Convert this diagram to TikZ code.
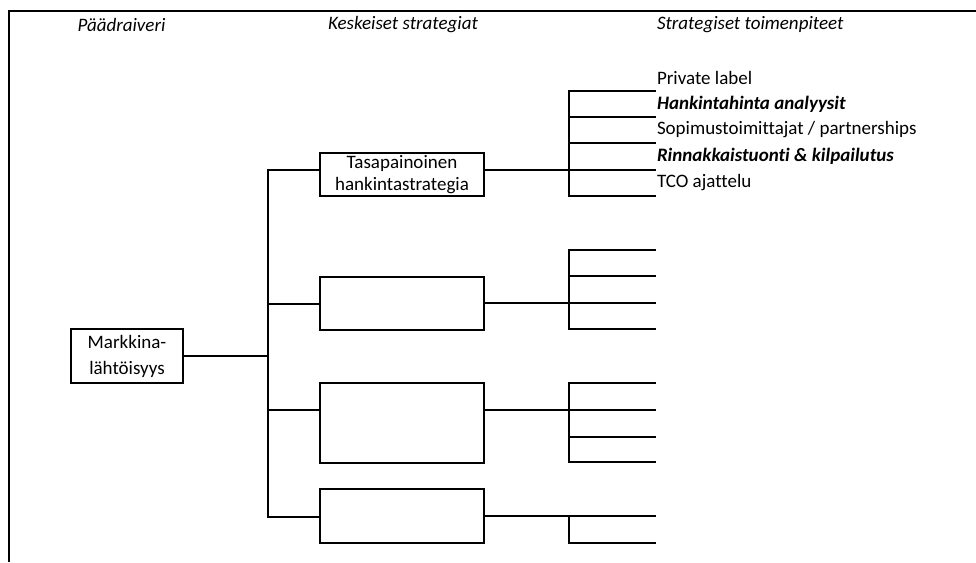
\documentclass[tikz,border=0pt]{standalone}
\usepackage{fontspec}
\setmainfont{Carlito}[Ligatures=NoCommon]
\begin{document}
\begin{tikzpicture}[x=1pt,y=-1pt,
  every node/.style={inner sep=0pt,outer sep=0pt,font=\fontsize{19}{25}\selectfont},
  ln/.style={line width=2pt},
  boxx/.style={draw,line width=2pt,align=center,minimum width=164pt},
  hdr/.style={font=\fontsize{19}{25}\selectfont\itshape},
  item/.style={anchor=west},
  bitem/.style={anchor=west,font=\fontsize{19}{25}\selectfont\bfseries\itshape}]
\useasboundingbox (0,0) rectangle (976,562);
% frame
\coordinate (fl) at (9,562);
\coordinate (ft) at (9,11);
\coordinate (fr) at (976,11);
\draw[ln] (fl) -- (ft) -- (fr);
% headers
\node[hdr] (h1) at (121.5,25) {Päädraiveri};
\node[hdr] (h2) at (403,25) {Keskeiset strategiat};
\node[hdr,anchor=west] (h3) at (657,25) {Strategiset toimenpiteet};
% main driver
\node[draw,line width=2pt,align=center,minimum width=112pt,minimum height=54pt,font=\fontsize{19}{26}\selectfont] (m) at (127,356) {Markkina-\\lähtöisyys};
% strategy boxes
\node[boxx,minimum height=43pt,font=\fontsize{19}{21.5}\selectfont] (b1) at (402,174.5) {Tasapainoinen\\hankintastrategia};
\node[boxx,minimum height=53pt] (b2) at (402,303.5) {};
\node[boxx,minimum height=80pt] (b3) at (402,423) {};
\node[boxx,minimum height=54pt] (b4) at (402,516) {};
% main bar
\coordinate (mj) at (268,356);
\coordinate (j1) at (268,170);
\coordinate (j2) at (268,304);
\coordinate (j3) at (268,410);
\coordinate (j4) at (268,517);
\draw[ln] (m.east |- mj) -- (mj);
\draw[ln] (j1 -| b1.west) -- (j1) -- (j4) -- (j4 -| b4.west);
\draw[ln] (j2) -- (j2 -| b2.west);
\draw[ln] (j3) -- (j3 -| b3.west);
% right groups
\coordinate (g1a) at (569,91);
\coordinate (g1b) at (569,117);
\coordinate (g1c) at (569,143);
\coordinate (g1d) at (569,170);
\coordinate (g1e) at (569,196);
\draw[ln] (b1.east |- g1d) -- (g1d);
\draw[ln] (656,91) coordinate (e1a) -- (g1a) -- (g1e) -- (656,196) coordinate (e1e);
\draw[ln] (g1b) -- (656,117) coordinate (e1b);
\draw[ln] (g1c) -- (656,143) coordinate (e1c);
\draw[ln] (g1d) -- (656,170) coordinate (e1d);
\coordinate (g2a) at (569,250);
\coordinate (g2b) at (569,276);
\coordinate (g2c) at (569,303);
\coordinate (g2d) at (569,329);
\draw[ln] (b2.east |- g2c) -- (g2c);
\draw[ln] (656,250) -- (g2a) -- (g2d) -- (656,329);
\draw[ln] (g2b) -- (656,276);
\draw[ln] (g2c) -- (656,303);
\coordinate (g3a) at (569,383);
\coordinate (g3b) at (569,410);
\coordinate (g3c) at (569,437);
\coordinate (g3d) at (569,462);
\draw[ln] (b3.east |- g3b) -- (g3b);
\draw[ln] (656,383) -- (g3a) -- (g3d) -- (656,462);
\draw[ln] (g3b) -- (656,410);
\draw[ln] (g3c) -- (656,437);
\coordinate (g4a) at (569,516);
\coordinate (g4b) at (569,543);
\draw[ln] (b4.east |- g4a) -- (656,516);
\draw[ln] (g4a) -- (g4b) -- (656,543);
% items
\node[item] (t1) at (657,78) {Private label};
\node[bitem] (t2) at (657,104) {Hankintahinta analyysit};
\node[item] (t3) at (657,130) {Sopimustoimittajat / partnerships};
\node[bitem] (t4) at (657,156) {Rinnakkaistuonti \& kilpailutus};
\node[item] (t5) at (657,183) {TCO ajattelu};
\end{tikzpicture}
\end{document}
